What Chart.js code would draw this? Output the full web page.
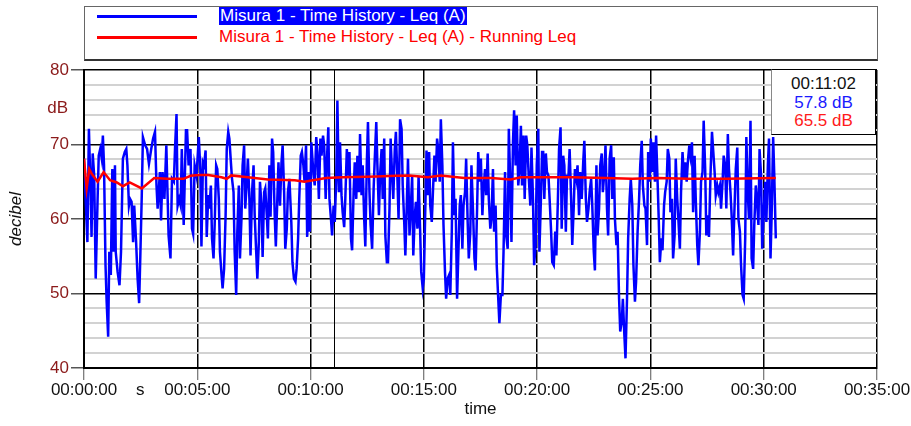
<!DOCTYPE html>
<html>
<head>
<meta charset="utf-8">
<title>Misura 1 - Time History</title>
<script src="https://cdn.jsdelivr.net/npm/chart.js@4.4.1/dist/chart.umd.min.js"></script>
<style>
  html, body { margin: 0; padding: 0; background: #fff; }
  #wrap { position: relative; width: 911px; height: 426px; overflow: hidden;
          font-family: "Liberation Sans", Arial, sans-serif; font-size: 17px; }
  #chart { position: absolute; left: 0; top: 0; }
  .abs { position: absolute; white-space: nowrap; }
  #legendBox { left: 84px; top: 6px; width: 792px; height: 52px; border: 1px solid #666; border-bottom: 2px solid #333; background: #fff; }
  .swatch { position: absolute; left: 97px; width: 100px; height: 3px; }
  .legText { left: 219px; line-height: 18px; }
  #infoBox { left: 771px; top: 69px; width: 105px; height: 66px; border: 1px solid #000; border-left-color: #888; background: #fff; text-align: center; line-height: 18.5px; padding-top: 5px; box-sizing: border-box; }
</style>
</head>
<body>
<div id="wrap">
  <canvas id="chart" width="911" height="426"></canvas>

  <div id="legendBox" class="abs"></div>
  <div class="swatch" style="top:15px;background:#0000ff"></div>
  <div class="abs legText" id="leg0" style="top:7px;background:#0000ff;color:#fff;padding:0 1px"></div>
  <div class="swatch" style="top:36px;background:#ff0000"></div>
  <div class="abs legText" id="leg1" style="top:28px;color:#ff0000"></div>

  <div class="abs" style="left:0;width:68px;text-align:right;top:98px;line-height:20px;color:#8b1a1a">dB</div>
  <div class="abs" style="left:136px;top:380px;line-height:20px;color:#111">s</div>

  <div id="infoBox" class="abs">
    <div id="info0" style="color:#111"></div>
    <div id="info1" style="color:#1a1aff"></div>
    <div id="info2" style="color:#ff1a1a"></div>
  </div>
</div>

<script>
// Labels
const seriesNames = ['Misura 1 - Time History - Leq (A)', 'Misura 1 - Time History - Leq (A) - Running Leq'];
const tickLabels = ['00:00:00', '00:05:00', '00:10:00', '00:15:00', '00:20:00', '00:25:00', '00:30:00', '00:35:00'];
const tickStep = 300; // seconds between x ticks

// Leq (A) time history: time in seconds, level in dB
const timeSec = [
  0,5,9,13,18,20,23,27,31,36,39,43,47,50,53,57,60,64,67,71,75,78,82,84,89,94,98,103,108,112,115,119,122,126,130,133,138,142,146,149,
  153,156,162,167,172,178,183,188,192,195,201,204,208,213,218,224,229,233,238,241,245,248,252,256,259,264,270,273,277,282,286,289,293,298,304,
  308,311,315,318,322,325,329,332,336,339,343,346,350,353,357,360,364,367,371,375,378,382,385,389,392,396,399,403,406,410,413,417,420,424,427,431,434,438,441,445,
  449,452,456,459,463,466,470,473,477,480,484,487,491,494,498,501,505,508,512,515,519,523,526,530,533,537,540,544,549,552,556,560,563,567,570,574,577,581,584,588,591,595,598,602,
  608,611,615,618,622,626,629,633,636,640,643,647,650,654,657,661,664,668,671,675,678,682,685,689,692,696,700,703,707,710,714,717,721,724,728,731,735,738,742,745,
  749,752,756,759,763,767,770,774,777,781,784,788,791,795,798,802,805,809,812,816,819,823,826,830,833,837,841,844,848,851,855,858,862,865,869,872,876,879,883,886,890,893,897,900,904,907,
  910,914,917,921,924,928,931,935,938,942,945,949,952,956,959,963,967,970,974,977,981,984,988,991,995,998,1002,1005,1009,1012,1016,1019,1023,1026,1030,1034,1037,1041,1044,1048,
  1051,1055,1058,1062,1065,1069,1072,1076,1079,1083,1086,1090,1093,1097,1100,1104,1108,1111,1115,1118,1122,1125,1129,1132,1136,1139,1143,1146,1150,1153,1157,1160,1164,1167,1171,1174,1178,1182,1185,1189,1192,1196,1199,1203,1206,1210,1213,
  1216,1219,1223,1226,1230,1233,1237,1240,1244,1248,1251,1255,1258,1262,1265,1269,1272,1276,1279,1283,1286,1290,1293,1297,1300,1304,1307,1311,1314,1318,1322,1325,1329,1332,1336,1339,1343,1346,1350,1353,
  1357,1360,1364,1367,1371,1374,1378,1381,1385,1388,1392,1396,1399,1403,1406,1410,1413,1417,1420,1424,1427,1431,1434,1438,1441,1445,1448,1452,1455,1459,1462,1466,1470,1473,1477,1480,1484,1487,1491,1494,1498,1501,1505,1508,1512,1515,1519,
  1522,1525,1529,1532,1536,1539,1543,1546,1550,1553,1557,1560,1564,1567,1571,1574,1578,1581,1585,1589,1592,1596,1599,1603,1606,1610,1613,1617,1620,1624,1627,1631,1634,1638,1641,1645,1648,1652,1655,1659,
  1663,1666,1670,1673,1677,1680,1684,1687,1691,1694,1698,1701,1705,1708,1712,1715,1719,1722,1726,1730,1733,1737,1740,1744,1747,1751,1754,1758,1761,1765,1768,1772,1775,1779,1782,1786,1789,1793,1796,1800,1804,1807,1811,1814,1818,1821,1825,1828,1832
];
const leqA = [
  68.1,61.8,56.9,72.1,62.7,57.6,68.8,65.8,52.0,62.7,68.5,69.4,68.1,71.2,67.2,53.8,48.9,44.2,55.6,52.5,66.7,55.6,67.2,55.6,52.9,51.1,55.6,68.1,69.0,69.4,67.2,61.8,62.7,62.3,56.9,61.8,56.9,52.0,48.7,54.7,
  63.2,71.0,69.9,69.4,67.4,69.4,70.8,71.7,64.5,61.4,66.3,59.8,66.3,62.7,69.9,57.8,54.7,65.4,65.0,69.4,74.1,61.8,62.7,61.8,69.4,59.2,71.9,71.9,67.2,69.4,58.7,58.0,67.2,65.8,71.0,
  66.7,56.3,67.6,67.2,69.2,57.6,63.2,61.4,64.5,57.4,54.7,59.2,67.2,66.7,62.7,55.6,52.7,50.7,53.3,60.5,69.4,71.7,70.8,67.6,65.4,63.6,55.6,49.8,58.3,64.5,54.7,60.0,67.2,69.9,61.4,65.0,68.1,62.7,55.1,63.6,
  67.2,60.5,55.6,52.0,56.9,65.0,61.8,54.9,63.6,64.1,60.5,57.4,67.2,60.3,70.8,69.0,60.5,56.3,62.7,67.6,61.8,67.6,69.9,63.6,56.0,58.7,63.6,65.4,59.6,54.2,52.0,51.6,53.3,57.4,62.7,68.5,69.0,67.2,65.0,69.9,57.6,66.3,58.3,70.3,
  65.8,64.5,71.0,69.0,62.7,70.8,68.5,71.2,69.9,62.7,67.6,72.3,62.7,60.0,57.8,61.8,59.6,65.4,75.9,63.6,70.3,63.2,60.9,58.9,62.7,69.4,65.8,69.0,57.4,55.8,63.6,67.6,62.7,68.5,63.6,71.4,63.2,67.2,60.0,56.3,
  67.6,73.0,63.6,59.2,56.0,64.1,68.1,73.0,67.2,60.5,65.8,69.4,62.7,70.8,57.8,54.2,54.2,61.4,70.8,65.8,62.7,69.4,71.7,65.4,60.0,73.4,72.1,64.5,59.6,55.1,62.3,68.1,57.8,60.9,65.8,55.1,60.5,62.3,58.7,65.8,58.7,52.9,50.7,52.0,61.8,69.2,
  63.2,69.0,61.8,59.6,63.6,68.5,65.0,70.8,69.4,65.0,73.4,67.2,59.2,52.9,49.3,52.0,52.5,49.8,58.3,70.3,60.5,62.7,49.3,54.7,61.8,63.2,56.0,61.8,63.6,68.1,59.6,54.7,58.3,67.2,61.4,54.7,53.1,61.4,69.0,65.0,
  68.1,60.5,64.1,66.7,63.2,68.8,62.7,58.7,60.0,66.7,58.3,61.8,53.8,49.3,46.0,49.8,49.8,55.6,66.3,57.8,56.0,72.1,64.5,56.9,70.3,74.6,67.2,73.9,64.5,66.3,72.5,64.5,71.2,62.7,71.2,69.9,65.4,61.8,69.6,62.7,53.8,56.5,67.2,72.1,55.6,62.7,69.0,
  69.0,62.7,68.8,66.3,65.8,62.7,58.3,54.2,53.8,58.3,55.1,62.7,69.4,72.3,58.7,68.5,67.2,58.3,65.8,65.8,69.4,62.7,56.5,61.8,66.7,65.4,67.2,60.5,66.3,62.7,67.6,70.5,62.7,59.6,61.4,63.6,65.4,61.8,55.6,53.1,
  67.2,57.8,61.4,67.2,68.8,63.6,66.3,69.9,61.4,57.8,68.1,69.9,62.7,68.3,60.0,56.5,58.3,49.3,44.9,46.2,49.3,44.4,41.3,49.3,57.4,62.7,65.4,61.8,53.8,48.9,51.6,58.3,62.7,67.2,70.5,64.5,61.8,61.4,56.5,69.0,65.0,70.8,66.3,70.3,65.0,71.2,65.0,
  60.0,54.2,57.4,55.8,61.8,63.6,65.0,69.4,68.1,60.9,62.7,54.7,57.8,68.1,62.7,60.0,56.0,63.6,69.0,65.4,67.6,65.0,67.6,69.9,68.5,70.3,60.9,68.5,62.7,56.5,53.8,58.3,65.0,66.3,73.2,66.7,57.8,60.5,57.6,65.8,
  71.7,69.4,66.3,63.2,64.5,63.6,64.5,61.4,65.0,68.5,67.2,61.4,71.4,66.7,63.6,60.5,55.1,60.5,66.7,69.6,60.0,58.3,53.8,49.8,49.3,57.4,71.0,63.2,60.0,73.2,54.7,53.3,59.2,64.5,62.7,59.2,69.4,65.8,56.0,60.9,65.0,59.6,67.2,70.8,54.7,60.5,71.0,65.8,57.4
];

// Running Leq
const runTime = [0,7,14,20,36,52,69,87,103,121,153,186,220,242,264,282,304,329,364,378,390,434,487,558,584,606,641,685,774,826,862,910,945,1007,1078,1130,1157,1214,1293,1381,1452,1519,1600,1700,1832];
const runLeq  = [68.1,64.1,66.7,66.1,65.0,66.3,65.2,64.9,64.4,64.9,64.1,65.5,65.4,65.4,65.4,65.8,65.9,65.9,65.6,65.4,65.85,65.6,65.3,65.2,65.0,65.2,65.5,65.6,65.7,65.8,65.85,65.6,65.85,65.5,65.5,65.3,65.6,65.6,65.6,65.5,65.4,65.5,65.4,65.4,65.5];

// Cursor readout
const cursorSec = 662;
const cursorText = ['00:11:02', '57.8 dB', '65.5 dB'];

const darkRed = '#8b1a1a';

document.getElementById('leg0').textContent = seriesNames[0];
document.getElementById('leg1').textContent = seriesNames[1];
cursorText.forEach((t, i) => { document.getElementById('info' + i).textContent = t; });

Chart.defaults.font.family = '"Liberation Sans", Arial, sans-serif';
Chart.defaults.font.size = 17;

// vertical cursor line
const cursorLine = {
  id: 'cursorLine',
  beforeDatasetsDraw(chart) {
    const { ctx, chartArea, scales } = chart;
    const px = Math.round(scales.x.getPixelForValue(cursorSec)) + 0.5;
    ctx.save();
    ctx.strokeStyle = '#000';
    ctx.lineWidth = 1;
    ctx.beginPath();
    ctx.moveTo(px, chartArea.top);
    ctx.lineTo(px, chartArea.bottom);
    ctx.stroke();
    ctx.restore();
  }
};

const isMajor = v => v % 10 === 0;

new Chart(document.getElementById('chart'), {
  type: 'line',
  data: {
    datasets: [
      {
        label: seriesNames[0],
        data: timeSec.map((t, i) => ({ x: t, y: leqA[i] })),
        borderColor: '#0000ff',
        borderWidth: 2.5,
        pointRadius: 0,
        tension: 0,
        order: 1
      },
      {
        label: seriesNames[1],
        data: runTime.map((t, i) => ({ x: t, y: runLeq[i] })),
        borderColor: '#ff0000',
        borderWidth: 2.5,
        pointRadius: 0,
        tension: 0,
        order: 0
      }
    ]
  },
  options: {
    responsive: false,
    animation: false,
    devicePixelRatio: 1,
    layout: { padding: { top: 70, right: 34, left: 0, bottom: 0 } },
    plugins: { legend: { display: false }, tooltip: { enabled: false } },
    scales: {
      x: {
        type: 'linear',
        min: 0,
        max: 2100,
        afterFit: s => { s.height = 58; },
        ticks: {
          stepSize: tickStep,
          autoSkip: false,
          maxRotation: 0,
          padding: 0,
          color: '#111',
          callback: v => tickLabels[Math.round(v / tickStep)]
        },
        grid: { color: '#000', lineWidth: 1.5, tickLength: 12, tickColor: '#555', tickWidth: 1 },
        border: { color: '#000', width: 2 },
        title: { display: true, text: 'time', color: '#111', padding: { top: 0, bottom: 6 } }
      },
      y: {
        min: 40,
        max: 80,
        afterFit: s => { s.width = 84; },
        ticks: {
          stepSize: 2,
          autoSkip: false,
          padding: 2,
          color: darkRed,
          callback: v => isMajor(v) ? String(v) : ''
        },
        grid: {
          color: c => isMajor(c.tick.value) ? '#000' : '#d2d2d2',
          lineWidth: c => isMajor(c.tick.value) ? 1.5 : 2,
          tickLength: 13,
          tickColor: c => isMajor(c.tick.value) ? '#555' : 'rgba(0,0,0,0)'
        },
        border: { color: '#000', width: 2 },
        title: { display: true, text: 'decibel', color: '#111', font: { style: 'italic' }, padding: { top: 6, bottom: 0 } }
      }
    }
  },
  plugins: [cursorLine]
});
</script>
</body>
</html>
